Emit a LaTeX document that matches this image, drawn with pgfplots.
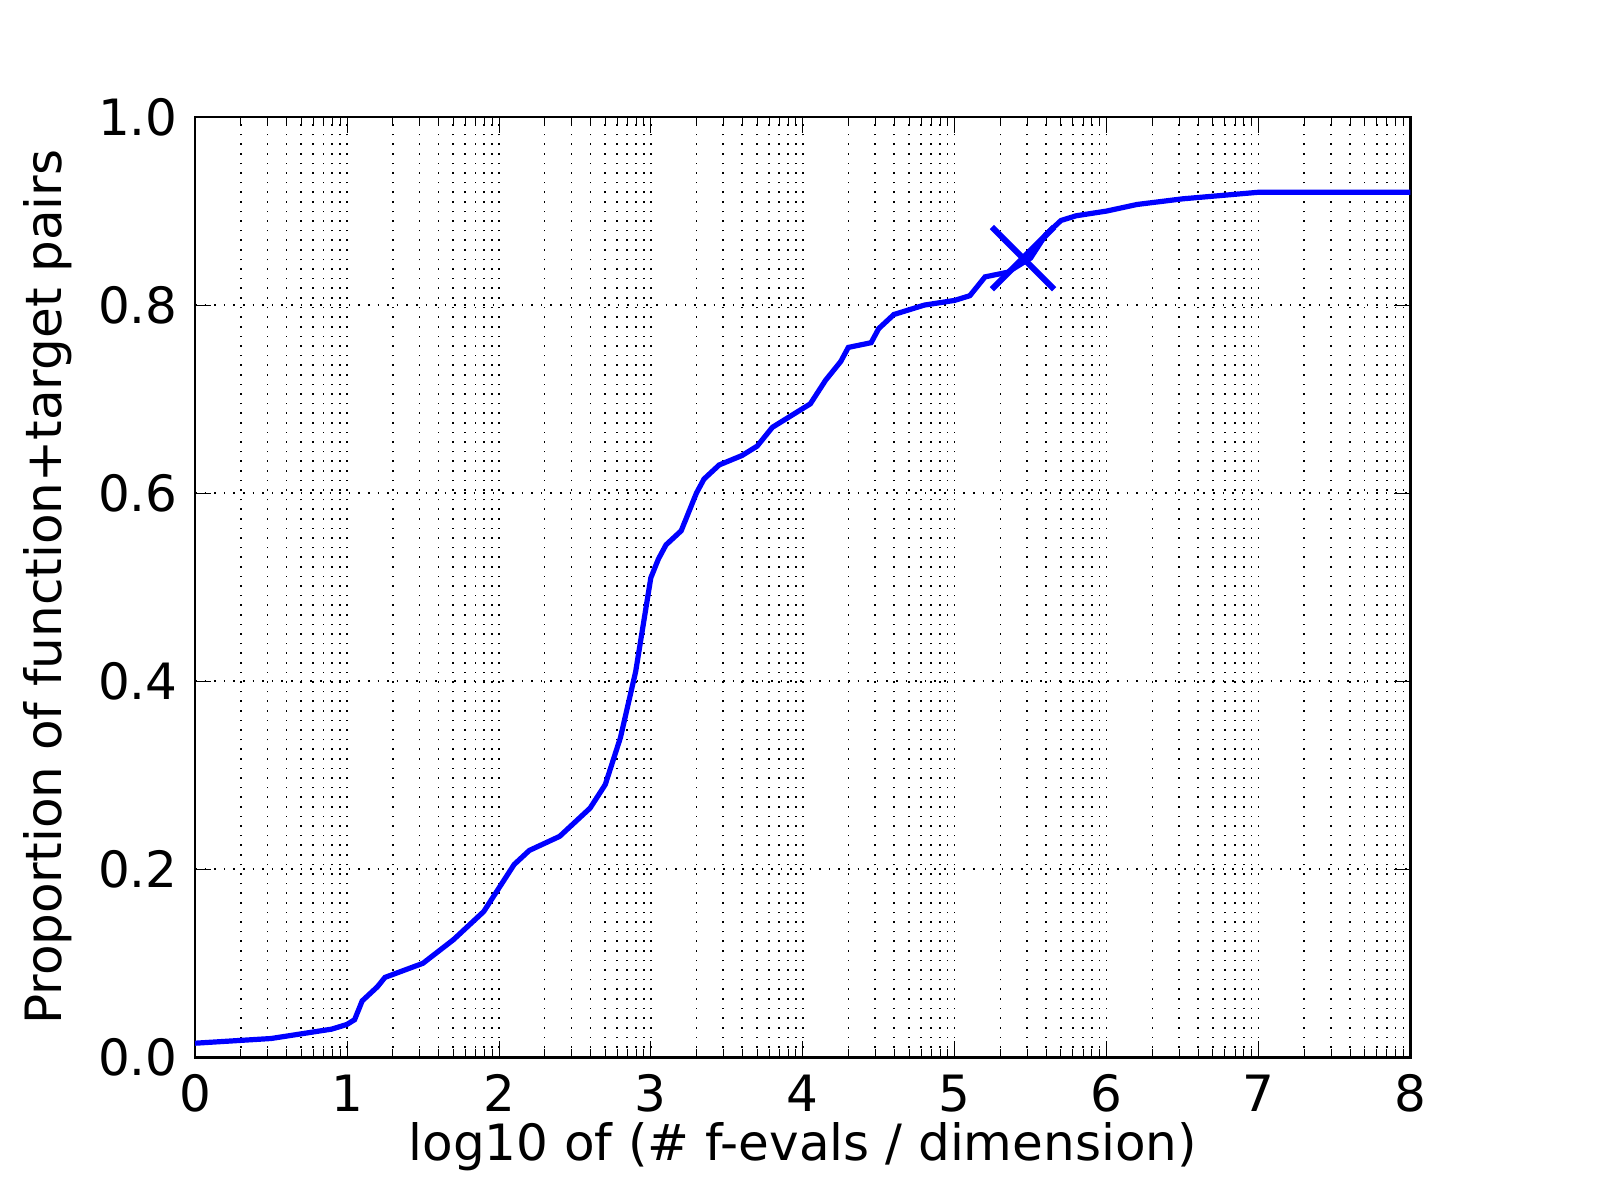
\documentclass[border=0pt]{standalone}
\usepackage{pgfplots}
\pgfplotsset{compat=1.18}
\usepackage{fontspec}
\setmainfont{DejaVu Sans}
\begin{document}%
\fontsize{12.5}{15}\selectfont%
\begin{tikzpicture}
\begin{axis}[
  scale only axis, width=303.75pt, height=235pt,
  xmin=0, xmax=8, ymin=0, ymax=1.0,
  xtick={0,...,8}, ytick={0,0.2,...,1.0},
  yticklabel style={/pgf/number format/.cd,fixed,fixed zerofill,precision=1},
  /pgf/number format/assume math mode=true,
  minor xtick={0.301,0.477,0.602,0.699,0.778,0.845,0.903,0.954,
   1.301,1.477,1.602,1.699,1.778,1.845,1.903,1.954,
   2.301,2.477,2.602,2.699,2.778,2.845,2.903,2.954,
   3.301,3.477,3.602,3.699,3.778,3.845,3.903,3.954,
   4.301,4.477,4.602,4.699,4.778,4.845,4.903,4.954,
   5.301,5.477,5.602,5.699,5.778,5.845,5.903,5.954,
   6.301,6.477,6.602,6.699,6.778,6.845,6.903,6.954,
   7.301,7.477,7.602,7.699,7.778,7.845,7.903,7.954},
  grid=both,
  major grid style={black, dotted, line width=0.4pt},
  minor grid style={black, dotted, line width=0.4pt},
  tick style={black}, major tick length=4pt, minor tick length=2pt,
  tick pos=both,
  axis line style={line width=0.6pt},
  xlabel={log10 of (\# f-evals / dimension)},
  ylabel={Proportion of function+target pairs},
  xlabel style={yshift=6pt},
  ylabel style={yshift=-2pt},
  clip=false,
]
\addplot[blue, line width=1.3pt] coordinates {
(0,0.015)(0.5,0.02)(0.9,0.03)(1.0,0.035)(1.05,0.04)(1.1,0.06)(1.2,0.075)(1.25,0.085)
(1.5,0.1)(1.7,0.125)(1.9,0.155)(2.0,0.18)(2.1,0.205)(2.2,0.22)(2.4,0.235)(2.6,0.265)
(2.7,0.29)(2.8,0.34)(2.9,0.41)(2.95,0.46)(3.0,0.51)(3.05,0.53)(3.1,0.545)(3.2,0.56)
(3.3,0.6)(3.35,0.615)(3.45,0.63)(3.6,0.64)(3.7,0.65)(3.8,0.67)(3.95,0.685)(4.05,0.695)
(4.15,0.72)(4.25,0.74)(4.3,0.755)(4.45,0.76)(4.5,0.775)(4.6,0.79)(4.7,0.795)(4.8,0.8)
(5.0,0.805)(5.1,0.81)(5.2,0.83)(5.35,0.835)(5.5,0.85)(5.6,0.875)(5.7,0.89)(5.8,0.895)
(6.0,0.9)(6.2,0.907)(6.5,0.913)(7.0,0.92)(8,0.92)};
\addplot[blue, only marks, mark=x, mark size=11pt, mark options={line width=1.5pt}] coordinates {(5.45,0.85)};
\path[use as bounding box] (rel axis cs:-0.1605,-0.152) rectangle (rel axis cs:1.156,1.1245);
\end{axis}
\end{tikzpicture}%
\end{document}
